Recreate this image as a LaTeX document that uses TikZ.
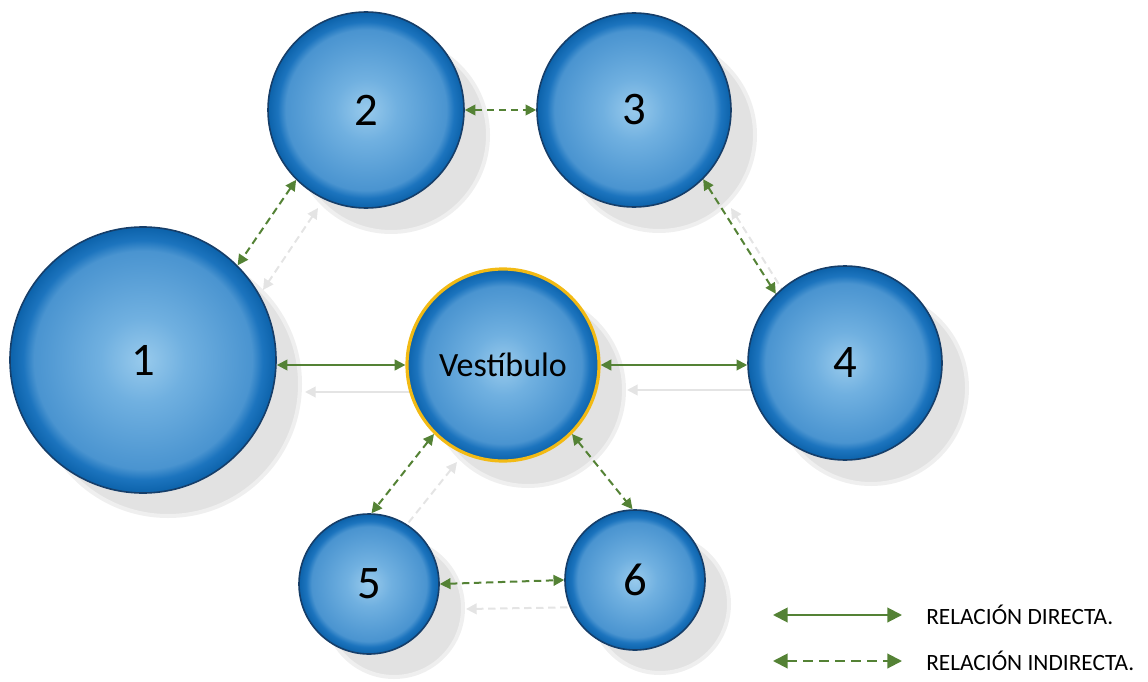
\documentclass[tikz,border=0pt]{standalone}
\usepackage{fontspec}
\setmainfont{Carlito}
\usetikzlibrary{arrows.meta,calc}
\definecolor{grn}{RGB}{84,130,53}
\definecolor{shd}{RGB}{226,226,226}
\definecolor{shdline}{RGB}{228,228,228}
\definecolor{bin}{RGB}{152,202,236}
\definecolor{bmid}{RGB}{112,176,224}
\definecolor{bout}{RGB}{74,148,208}
\definecolor{brim}{RGB}{28,116,190}
\definecolor{bedge}{RGB}{12,98,170}
\definecolor{bborder}{RGB}{22,62,105}
\definecolor{yel}{RGB}{242,186,20}
\pgfdeclareradialshading{ballblue}{\pgfpoint{0bp}{0bp}}{color(0bp)=(bin); color(8bp)=(bmid); color(20.5bp)=(bout); color(22.5bp)=(brim); color(25bp)=(bedge); color(50bp)=(bedge)}
\tikzset{
  ball/.style={circle, minimum size=#1*1.5pt, inner sep=0pt, draw=bborder, line width=1.2pt,
    shade, shading=ballblue, font=\fontsize{35}{40}\selectfont},
  shadowball/.style={circle, minimum size=#1*1.5pt, inner sep=0pt, fill=shd, draw=shd!55, line width=3pt},
  vest/.style={draw=yel, line width=2.4pt, font=\fontsize{25.5}{30}\selectfont},
  tip/.style={{Triangle[length=8pt,width=8pt]}-{Triangle[length=8pt,width=8pt]}},
  bigtip/.style={{Triangle[length=11pt,width=11pt]}-{Triangle[length=11pt,width=11pt]}},
  direct/.style={draw=grn, line width=1.5pt, tip},
  indirect/.style={draw=grn, line width=1.5pt, dash pattern=on 5.5pt off 3.5pt, tip},
  shadowdirect/.style={draw=shdline, line width=1.5pt, tip},
  shadowindirect/.style={draw=shdline, line width=1.5pt, dash pattern=on 5.5pt off 3.5pt, tip},
  legendtext/.style={anchor=west, font=\fontsize{17.5}{20}\selectfont, inner sep=0pt}
}
\begin{document}
\begin{tikzpicture}[x=0.75pt,y=-0.75pt]
\useasboundingbox (0,0) rectangle (1148,681);
% shadows of circles
\node[shadowball=132] (s1) at (168,384) {};
\node[shadowball=97] (s2) at (391,135) {};
\node[shadowball=96] (s3) at (659,135) {};
\node[shadowball=96] (sv) at (528,390) {};
\node[shadowball=96] (s4) at (871,388) {};
\node[shadowball=69] (s5) at (394,608) {};
\node[shadowball=69] (s6) at (660,604) {};
% coordinates of circles
\coordinate (p1) at (143,360);
\coordinate (p2) at (366,110);
\coordinate (p3) at (634,110);
\coordinate (pv) at (503,365);
\coordinate (p4) at (845,363);
\coordinate (p5) at (369,584);
\coordinate (p6) at (635,580);
% shadows of connectors
\coordinate (h1a) at (305,392);
\coordinate (h1b) at (432,392);
\draw[shadowdirect] (h1a) -- (h1b);
\coordinate (h4a) at (627,390);
\coordinate (h4b) at (772,390);
\draw[shadowdirect] (h4a) -- (h4b);
\coordinate (h12a) at (318,208);
\coordinate (h12b) at (263,290);
\draw[shadowindirect] (h12a) -- (h12b);
\coordinate (h34a) at (731,208);
\coordinate (h34b) at (800,318);
\draw[shadowindirect] (h34a) -- (h34b);
\coordinate (h5a) at (457,462);
\coordinate (h5b) at (397,537);
\draw[shadowindirect] (h5a) -- (h5b);
\coordinate (h56a) at (466,609);
\coordinate (h56b) at (590,607);
\draw[shadowindirect] (h56a) -- (h56b);
% circles
\node[ball=133] (c1) at (p1) {1};
\node[ball=98] (c2) at (p2) {2};
\node[ball=97] (c3) at (p3) {3};
\node[ball=96, vest] (v) at (pv) {Vestíbulo};
\node[ball=97] (c4) at (p4) {4};
\node[ball=70] (c5) at (p5) {5};
\node[ball=70] (c6) at (p6) {6};
% connectors
\draw[direct] (v.west -| c1.east) -- (v.west);
\draw[direct] (v.east) -- (v.east -| c4.west);
\draw[indirect] (c2.225) -- (c1.45);
\draw[indirect] (c2.east) -- (c3.west);
\draw[indirect] (c3.-45) -- (c4.135);
\draw[indirect] (v.225) -- (c5.88);
\draw[indirect] (v.-45) -- (c6.92);
\draw[indirect] (c5.east) -- (c6.west);
% legend
\coordinate (la1) at (773,615);
\coordinate (lb1) at (902,615);
\draw[direct, bigtip] (la1) -- (lb1);
\node[legendtext] (lt1) at (926,615) {RELACIÓN DIRECTA.};
\coordinate (la2) at (773,661);
\coordinate (lb2) at (902,661);
\draw[indirect, bigtip, dash pattern=on 7pt off 5pt] (la2) -- (lb2);
\node[legendtext] (lt2) at (926,661) {RELACIÓN INDIRECTA.};
\end{tikzpicture}
\end{document}
